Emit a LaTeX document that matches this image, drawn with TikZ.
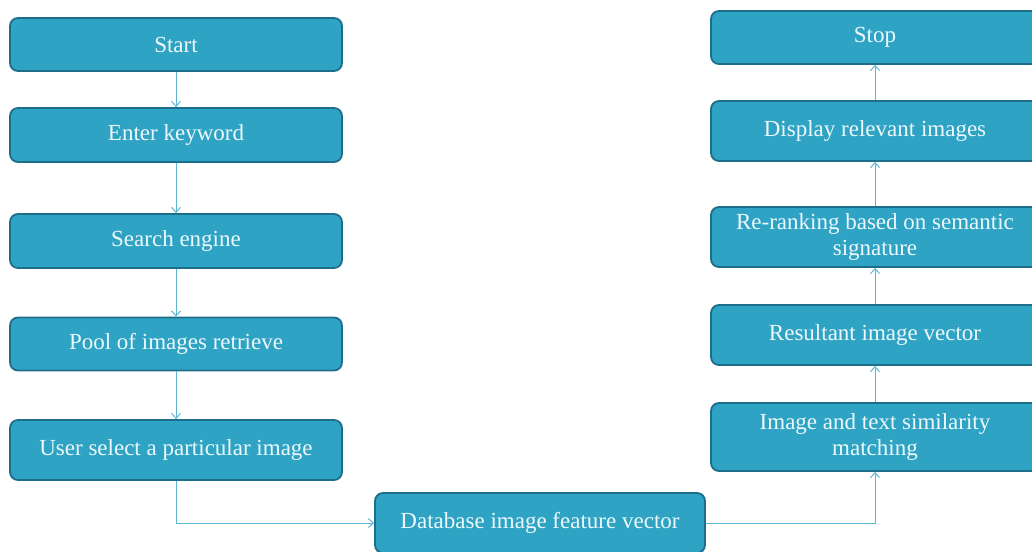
\documentclass[tikz,border=0pt]{standalone}
\usepackage{fontspec}
\setmainfont{Liberation Serif}
\usetikzlibrary{arrows.meta}
\definecolor{boxfill}{RGB}{47,163,196}
\definecolor{boxedge}{RGB}{28,110,138}
\definecolor{linkcol}{RGB}{92,184,210}
\definecolor{txtcol}{RGB}{236,248,251}
\tikzset{
  flowbox/.style={draw=boxedge, line width=1.8pt, fill=boxfill, rounded corners=8pt,
    text=txtcol, font=\fontsize{23}{26}\selectfont, align=center, inner sep=2pt},
  leftbox/.style={flowbox, minimum width=332pt},
  rightbox/.style={flowbox, minimum width=328pt},
  link/.style={draw=linkcol, line width=1pt, -{Straight Barb[length=5pt,width=9pt]}}
}
\begin{document}
\begin{tikzpicture}[x=1pt,y=-1pt]
\useasboundingbox (0,0) rectangle (1032,551);
\clip (0,0) rectangle (1032,551);
% left column
\node[leftbox, minimum height=53pt] (start) at (176,44.5) {Start};
\node[leftbox, minimum height=54pt] (key) at (176,135) {Enter keyword};
\node[leftbox, minimum height=54pt] (eng) at (176,241) {Search engine};
\node[leftbox, minimum height=53pt] (pool) at (176,344) {Pool of images retrieve};
\node[leftbox, minimum height=60pt] (user) at (176,450) {User select a particular image};
% bottom
\node[flowbox, minimum width=330pt, minimum height=60pt] (db) at (540,523) {Database image feature vector};
% right column
\node[rightbox, minimum height=68pt] (match) at (875,437) {Image and text similarity\\matching};
\node[rightbox, minimum height=60pt] (res) at (875,335) {Resultant image vector};
\node[rightbox, minimum height=60pt] (rank) at (875,237) {Re-ranking based on semantic\\signature};
\node[rightbox, minimum height=60pt] (disp) at (875,131) {Display relevant images};
\node[rightbox, minimum height=53pt] (stop) at (875,37.5) {Stop};
% connectors
\draw[link] (start) -- (key);
\draw[link] (key) -- (eng);
\draw[link] (eng) -- (pool);
\draw[link] (pool) -- (user);
\draw[link] (user.south) |- (db.west);
\draw[link] (db.east) -| (match.south);
\draw[link] (match) -- (res);
\draw[link] (res) -- (rank);
\draw[link] (rank) -- (disp);
\draw[link] (disp) -- (stop);
\end{tikzpicture}
\end{document}
